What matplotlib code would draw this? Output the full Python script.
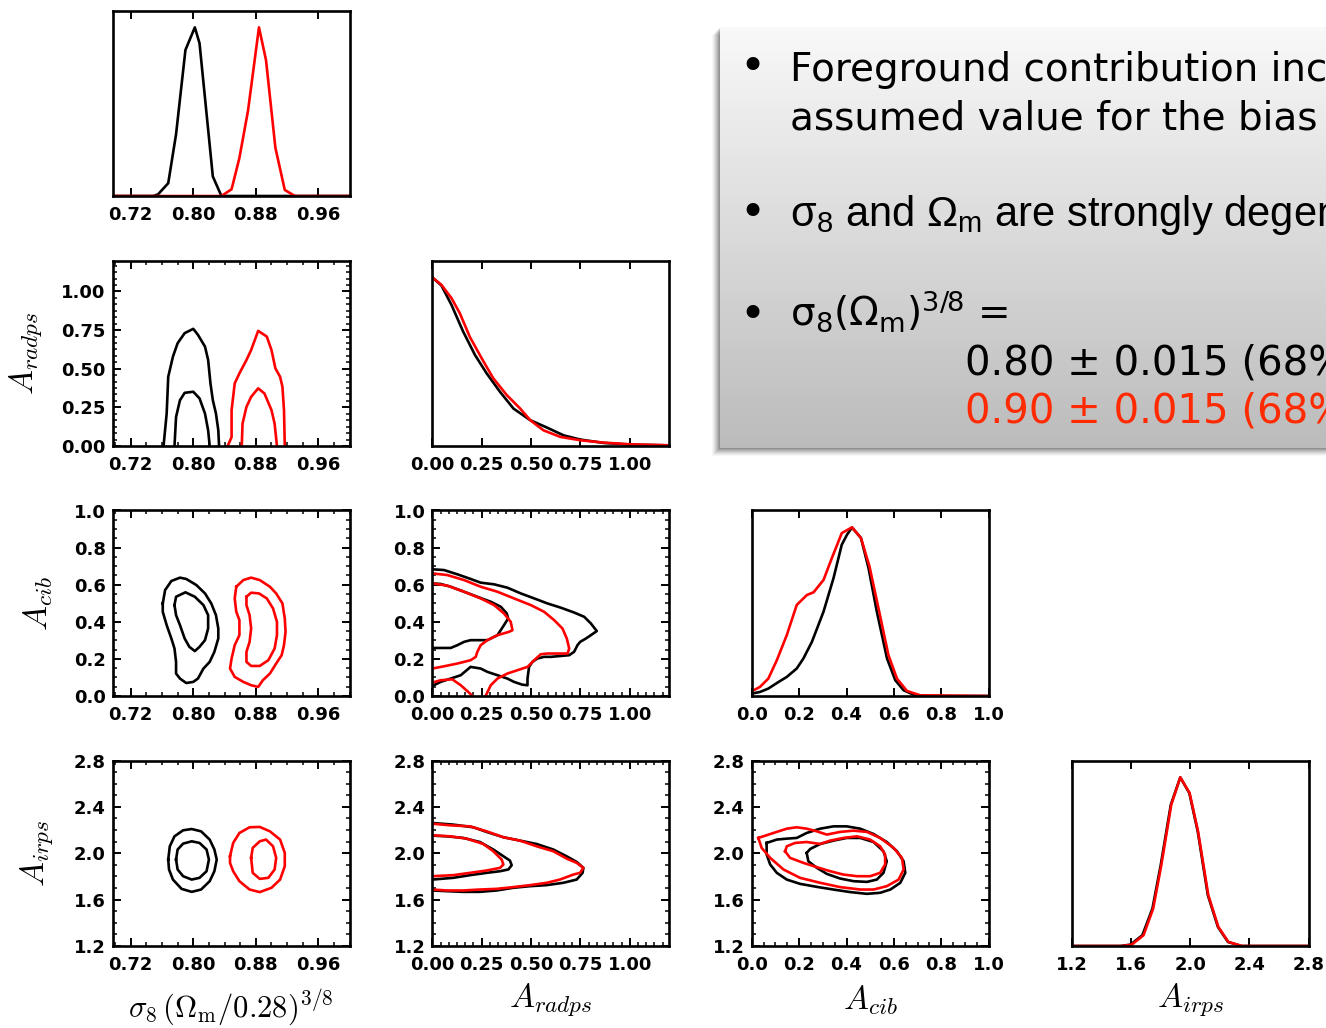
import matplotlib
matplotlib.use("Agg")
import matplotlib.pyplot as plt
import numpy as np
from matplotlib.ticker import FixedLocator, FixedFormatter, AutoMinorLocator, NullLocator
from matplotlib.patches import Rectangle

plt.rcParams['mathtext.fontset'] = 'cm'
plt.rcParams['font.family'] = ['DejaVu Sans']

# ---------------- data ----------------
# parameter axes
param_labels = [r"$\sigma_8\,(\Omega_{\rm m}/0.28)^{3/8}$", r"$A_{radps}$", r"$A_{cib}$", r"$A_{irps}$"]
param_lims = [(0.697, 1.0), (0.0, 1.2), (0.0, 1.0), (1.2, 2.8)]
param_ticks = [[0.72, 0.80, 0.88, 0.96], [0.0, 0.25, 0.5, 0.75, 1.0],
               [0.0, 0.2, 0.4, 0.6, 0.8, 1.0], [1.2, 1.6, 2.0, 2.4, 2.8]]
param_ticklabels = [["0.72", "0.80", "0.88", "0.96"], ["0.00", "0.25", "0.50", "0.75", "1.00"],
                    ["0.0", "0.2", "0.4", "0.6", "0.8", "1.0"], ["1.2", "1.6", "2.0", "2.4", "2.8"]]
param_minor = [4, 6, 4, 4]

# 1D marginals (normalised to peak)
s8_x_black = [0.697, 0.749, 0.755, 0.768, 0.778, 0.790, 0.802, 0.808, 0.825, 0.836, 1.0]
s8_p_black = [0, 0, 0.01, 0.076, 0.366, 0.866, 1.0, 0.906, 0.116, 0, 0]
s8_x_red = [0.697, 0.836, 0.849, 0.859, 0.870, 0.884, 0.893, 0.905, 0.917, 0.930, 1.0]
s8_p_red = [0, 0, 0.04, 0.226, 0.506, 1.0, 0.806, 0.286, 0.036, 0, 0]

radps_x_black = [0, 0.046, 0.097, 0.156, 0.216, 0.275, 0.343, 0.411, 0.496, 0.581, 0.665, 0.750, 0.869, 1.005, 1.2]
radps_p_black = [1.0, 0.952, 0.837, 0.679, 0.540, 0.431, 0.321, 0.222, 0.153, 0.109, 0.063, 0.038, 0.018, 0.008, 0.004]
radps_x_red = [0, 0.046, 0.097, 0.139, 0.190, 0.250, 0.309, 0.377, 0.445, 0.496, 0.563, 0.648, 0.750, 0.869, 1.005, 1.2]
radps_p_red = [1.0, 0.956, 0.877, 0.788, 0.647, 0.520, 0.401, 0.302, 0.222, 0.153, 0.093, 0.054, 0.034, 0.020, 0.010, 0.004]

cib_x_black = [0, 0.035, 0.070, 0.113, 0.148, 0.190, 0.218, 0.254, 0.303, 0.345, 0.380, 0.402, 0.423,
               0.461, 0.493, 0.528, 0.571, 0.606, 0.641, 0.683, 0.740, 1.0]
cib_p_black = [0.014, 0.024, 0.044, 0.083, 0.113, 0.163, 0.222, 0.321, 0.500, 0.698, 0.897, 0.956, 1.0,
               0.937, 0.758, 0.500, 0.222, 0.093, 0.034, 0.008, 0, 0]
cib_x_red = [0, 0.035, 0.070, 0.106, 0.148, 0.190, 0.233, 0.261, 0.303, 0.338, 0.380, 0.423, 0.461,
             0.497, 0.535, 0.577, 0.613, 0.655, 0.711, 1.0]
cib_p_red = [0.028, 0.054, 0.103, 0.212, 0.361, 0.540, 0.599, 0.615, 0.688, 0.817, 0.966, 1.0, 0.937,
             0.768, 0.520, 0.242, 0.103, 0.030, 0.004, 0]

irps_x_black = [1.2, 1.529, 1.597, 1.677, 1.745, 1.801, 1.869, 1.933, 1.994, 2.051, 2.119, 2.187, 2.255, 2.346, 2.8]
irps_p_black = [0, 0, 0.008, 0.064, 0.222, 0.480, 0.837, 1.0, 0.907, 0.679, 0.302, 0.113, 0.024, 0, 0]
irps_x_red = [1.2, 1.540, 1.605, 1.685, 1.750, 1.805, 1.872, 1.933, 1.996, 2.053, 2.122, 2.190, 2.258, 2.350, 2.8]
irps_p_red = [0, 0, 0.008, 0.064, 0.222, 0.480, 0.837, 1.0, 0.907, 0.679, 0.302, 0.113, 0.024, 0, 0]

# 2D contours (68% inner, 95% outer), x/y in parameter units
# sigma8 - A_radps
s8_radps_black_95 = ([0.762, 0.766, 0.768, 0.774, 0.780, 0.789, 0.800, 0.806, 0.815, 0.819, 0.822, 0.825, 0.829, 0.832, 0.833],
                     [0, 0.21, 0.448, 0.578, 0.665, 0.73, 0.758, 0.719, 0.643, 0.557, 0.405, 0.297, 0.21, 0.102, 0])
s8_radps_black_68 = ([0.776, 0.778, 0.783, 0.789, 0.800, 0.808, 0.815, 0.819, 0.821],
                     [0, 0.188, 0.296, 0.344, 0.351, 0.308, 0.210, 0.102, 0])
s8_radps_red_95 = ([0.844, 0.849, 0.849, 0.853, 0.859, 0.868, 0.874, 0.883, 0.894, 0.900, 0.905, 0.911, 0.914, 0.916, 0.917],
                   [0, 0.058, 0.232, 0.405, 0.47, 0.556, 0.621, 0.745, 0.708, 0.621, 0.502, 0.448, 0.383, 0.232, 0])
s8_radps_red_68 = ([0.862, 0.863, 0.868, 0.874, 0.883, 0.891, 0.900, 0.904, 0.907],
                   [0, 0.145, 0.253, 0.318, 0.373, 0.34, 0.232, 0.145, 0])

# sigma8 - A_cib
s8_cib_black_95 = ([0.761, 0.764, 0.772, 0.783, 0.791, 0.804, 0.815, 0.823, 0.829, 0.832, 0.832, 0.827, 0.821,
                    0.813, 0.806, 0.800, 0.791, 0.783, 0.778, 0.778, 0.776, 0.772, 0.766, 0.761, 0.761],
                   [0.499, 0.571, 0.620, 0.638, 0.631, 0.598, 0.553, 0.499, 0.436, 0.364, 0.310, 0.238, 0.184,
                    0.148, 0.094, 0.076, 0.070, 0.094, 0.121, 0.184, 0.256, 0.310, 0.382, 0.454, 0.499])
s8_cib_black_68 = ([0.776, 0.778, 0.790, 0.802, 0.813, 0.819, 0.819, 0.815, 0.808, 0.802, 0.795, 0.789, 0.783, 0.778, 0.776],
                   [0.490, 0.535, 0.559, 0.535, 0.490, 0.436, 0.364, 0.301, 0.265, 0.242, 0.265, 0.310, 0.382, 0.436, 0.490])
s8_cib_red_95 = ([0.855, 0.864, 0.874, 0.885, 0.898, 0.906, 0.914, 0.917, 0.918, 0.916, 0.913, 0.906, 0.898,
                  0.889, 0.883, 0.874, 0.864, 0.853, 0.847, 0.849, 0.853, 0.859, 0.859, 0.855, 0.853, 0.855],
                 [0.589, 0.625, 0.638, 0.625, 0.589, 0.553, 0.499, 0.418, 0.346, 0.274, 0.220, 0.175, 0.121,
                  0.085, 0.049, 0.058, 0.076, 0.103, 0.148, 0.202, 0.274, 0.328, 0.409, 0.454, 0.526, 0.589])
s8_cib_red_68 = ([0.868, 0.874, 0.884, 0.894, 0.902, 0.907, 0.907, 0.904, 0.896, 0.885, 0.874, 0.868, 0.868,
                  0.872, 0.874, 0.872, 0.868, 0.868],
                 [0.535, 0.557, 0.553, 0.526, 0.472, 0.400, 0.328, 0.256, 0.193, 0.162, 0.162, 0.184, 0.238,
                  0.292, 0.364, 0.436, 0.490, 0.535])

# sigma8 - A_irps
s8_irps_black_95 = ([0.768, 0.770, 0.776, 0.787, 0.798, 0.810, 0.821, 0.827, 0.830, 0.827, 0.821, 0.810, 0.798, 0.785, 0.774, 0.769, 0.768],
                    [1.946, 2.060, 2.146, 2.198, 2.209, 2.189, 2.118, 2.032, 1.946, 1.845, 1.759, 1.687, 1.667, 1.693, 1.773, 1.860, 1.946])
s8_irps_black_68 = ([0.778, 0.780, 0.787, 0.798, 0.808, 0.817, 0.820, 0.817, 0.808, 0.798, 0.787, 0.780, 0.778],
                    [1.946, 2.032, 2.083, 2.103, 2.089, 2.032, 1.946, 1.845, 1.788, 1.773, 1.802, 1.860, 1.946])
s8_irps_red_95 = ([0.847, 0.851, 0.859, 0.872, 0.885, 0.898, 0.911, 0.917, 0.917, 0.911, 0.900, 0.885, 0.872, 0.859, 0.851, 0.847, 0.847],
                  [1.974, 2.089, 2.175, 2.224, 2.227, 2.189, 2.118, 2.003, 1.888, 1.773, 1.702, 1.665, 1.687, 1.759, 1.845, 1.917, 1.974])
s8_irps_red_68 = ([0.874, 0.876, 0.885, 0.893, 0.902, 0.906, 0.904, 0.896, 0.885, 0.876, 0.874],
                  [1.960, 2.046, 2.103, 2.118, 2.060, 1.960, 1.860, 1.788, 1.779, 1.831, 1.960])

# A_radps - A_cib
radps_cib_black_95 = ([0, 0.059, 0.127, 0.186, 0.245, 0.313, 0.380, 0.448, 0.516, 0.583, 0.651, 0.718, 0.769, 0.803, 0.833,
                       0.803, 0.778, 0.749, 0.735, 0.718, 0.693, 0.600, 0.566, 0.532, 0.507, 0.490, 0.482, 0.482,
                       0.456, 0.414, 0.380, 0.330, 0.279, 0.245, 0.194, 0.144, 0.093, 0.042, 0],
                      [0.683, 0.679, 0.656, 0.634, 0.611, 0.602, 0.584, 0.553, 0.526, 0.499, 0.476, 0.450, 0.427, 0.391, 0.350,
                       0.328, 0.310, 0.292, 0.274, 0.238, 0.220, 0.211, 0.211, 0.202, 0.184, 0.157, 0.094, 0.058,
                       0.061, 0.076, 0.094, 0.112, 0.130, 0.148, 0.157, 0.112, 0.094, 0.076, 0.054])
radps_cib_black_68 = ([0, 0.042, 0.093, 0.161, 0.228, 0.296, 0.347, 0.377, 0.384, 0.363, 0.330, 0.279, 0.245, 0.194,
                       0.161, 0.127, 0.093, 0.042, 0],
                      [0.607, 0.604, 0.589, 0.562, 0.535, 0.508, 0.481, 0.445, 0.418, 0.382, 0.328, 0.301, 0.301, 0.301,
                       0.292, 0.274, 0.259, 0.259, 0.259])
radps_cib_red_95 = ([0, 0.076, 0.161, 0.245, 0.330, 0.414, 0.499, 0.566, 0.617, 0.659, 0.681, 0.693, 0.685, 0.651,
                     0.583, 0.549, 0.516, 0.482, 0.431, 0.380, 0.330, 0.296, 0.270],
                    [0.661, 0.652, 0.625, 0.589, 0.562, 0.526, 0.490, 0.454, 0.409, 0.364, 0.310, 0.256, 0.229, 0.229,
                     0.229, 0.225, 0.193, 0.157, 0.139, 0.121, 0.094, 0.058, 0.0])
radps_cib_red_95b = ([0, 0.042, 0.101, 0.144, 0.186, 0.203],
                     [0.072, 0.085, 0.090, 0.058, 0.018, 0.0])
radps_cib_red_68 = ([0, 0.076, 0.161, 0.245, 0.313, 0.363, 0.397, 0.406, 0.389, 0.330, 0.279, 0.245, 0.228, 0.220,
                     0.194, 0.127, 0.059, 0],
                    [0.607, 0.595, 0.562, 0.526, 0.490, 0.445, 0.400, 0.355, 0.346, 0.328, 0.301, 0.274, 0.238, 0.211,
                     0.193, 0.175, 0.160, 0.148])

# A_radps - A_irps
radps_irps_black_95 = ([0, 0.106, 0.208, 0.275, 0.360, 0.444, 0.528, 0.613, 0.680, 0.731, 0.765, 0.761, 0.731, 0.663,
                        0.579, 0.495, 0.410, 0.326, 0.241, 0.157, 0.073, 0],
                       [2.261, 2.247, 2.224, 2.184, 2.138, 2.109, 2.080, 2.032, 1.974, 1.925, 1.874, 1.831, 1.773, 1.745,
                        1.725, 1.716, 1.702, 1.679, 1.667, 1.667, 1.673, 1.679])
radps_irps_black_68 = ([0, 0.073, 0.157, 0.241, 0.309, 0.360, 0.393, 0.402, 0.385, 0.343, 0.275, 0.191, 0.106, 0],
                       [2.152, 2.146, 2.132, 2.097, 2.032, 1.974, 1.937, 1.897, 1.860, 1.845, 1.831, 1.811, 1.788, 1.773])
radps_irps_red_95 = ([0, 0.090, 0.191, 0.275, 0.360, 0.444, 0.528, 0.613, 0.680, 0.731, 0.765, 0.748, 0.714, 0.646,
                      0.579, 0.495, 0.410, 0.326, 0.241, 0.157, 0.073, 0],
                     [2.255, 2.241, 2.232, 2.189, 2.138, 2.109, 2.060, 2.017, 1.954, 1.917, 1.874, 1.831, 1.816, 1.773,
                      1.745, 1.725, 1.708, 1.693, 1.687, 1.679, 1.679, 1.687])
radps_irps_red_68 = ([0, 0.090, 0.174, 0.258, 0.309, 0.351, 0.360, 0.343, 0.275, 0.191, 0.106, 0],
                     [2.155, 2.146, 2.126, 2.080, 2.017, 1.946, 1.903, 1.874, 1.851, 1.831, 1.811, 1.802])

# A_cib - A_irps
cib_irps_black_95 = ([0.063, 0.106, 0.148, 0.190, 0.232, 0.289, 0.345, 0.401, 0.458, 0.514, 0.570, 0.613, 0.641, 0.648,
                      0.627, 0.585, 0.542, 0.486, 0.416, 0.345, 0.275, 0.204, 0.148, 0.106, 0.078, 0.063, 0.063],
                     [2.089, 2.118, 2.126, 2.132, 2.175, 2.212, 2.232, 2.232, 2.212, 2.166, 2.097, 2.017, 1.931, 1.831,
                      1.745, 1.687, 1.659, 1.650, 1.665, 1.687, 1.710, 1.736, 1.773, 1.831, 1.903, 1.989, 2.089])
cib_irps_black_68 = ([0.232, 0.247, 0.289, 0.345, 0.401, 0.458, 0.514, 0.556, 0.570, 0.556, 0.528, 0.486, 0.430, 0.373,
                      0.317, 0.275, 0.239, 0.232],
                     [2.003, 2.037, 2.080, 2.109, 2.132, 2.132, 2.097, 2.017, 1.931, 1.831, 1.773, 1.753, 1.759, 1.782,
                      1.822, 1.874, 1.931, 2.003])
cib_irps_red_95 = ([0.028, 0.092, 0.148, 0.190, 0.232, 0.275, 0.317, 0.373, 0.430, 0.486, 0.542, 0.599, 0.634, 0.641,
                    0.620, 0.570, 0.514, 0.458, 0.373, 0.289, 0.204, 0.134, 0.078, 0.042, 0.028],
                   [2.132, 2.175, 2.212, 2.224, 2.212, 2.189, 2.161, 2.184, 2.195, 2.184, 2.132, 2.046, 1.960, 1.860,
                    1.773, 1.716, 1.687, 1.687, 1.708, 1.745, 1.788, 1.860, 1.960, 2.046, 2.132])
cib_irps_red_68 = ([0.141, 0.148, 0.183, 0.232, 0.289, 0.331, 0.387, 0.444, 0.500, 0.542, 0.563, 0.563, 0.542, 0.500,
                    0.444, 0.387, 0.331, 0.275, 0.218, 0.162, 0.141],
                   [2.017, 2.060, 2.089, 2.097, 2.080, 2.109, 2.132, 2.146, 2.118, 2.060, 1.989, 1.903, 1.831, 1.802,
                    1.802, 1.816, 1.845, 1.880, 1.917, 1.960, 2.017])

# text box content
box_line1 = "Foreground contribution increases the"
box_line2 = "assumed value for the bias"
box_line3 = r"$\mathregular{\sigma_8}$ and $\mathregular{\Omega_m}$ are strongly degenerate"
box_line4 = r"$\mathregular{\sigma_8(\Omega_m)^{3/8}}$ ="
box_val_black = "0.80 \u00b1 0.015 (68% CL)"
box_val_red = "0.90 \u00b1 0.015 (68% CL)"

# ---------------- figure ----------------
W, H = 1326, 1028
fig = plt.figure(figsize=(W / 100, H / 100), dpi=100)
fig.patch.set_facecolor("white")

col_left = [112.7, 432.3, 751.7, 1071.7]
row_top = [10.5, 260.5, 510.5, 760.5]
AW, AH = 237.0, 185.5
BLACK, RED = "black", "#ff0000"
LW = 1.9
TICKFONT = dict(fontsize=13, fontweight="bold")


def add_ax(r, c):
    return fig.add_axes([col_left[c] / W, 1 - (row_top[r] + AH) / H, AW / W, AH / H])


def style_axis(ax, c, r=None):
    for s in ax.spines.values():
        s.set_linewidth(1.9)
    ax.set_xlim(*param_lims[c])
    ax.xaxis.set_major_locator(FixedLocator(param_ticks[c]))
    ax.xaxis.set_major_formatter(FixedFormatter(param_ticklabels[c]))
    ax.tick_params(axis="both", which="major", direction="in", length=6, width=1.4,
                   top=True, right=True, pad=5)
    ax.tick_params(axis="x", which="major", pad=7)
    ax.tick_params(axis="both", which="minor", direction="in", length=3, width=1.1,
                   top=True, right=True)
    if r is None:
        ax.set_ylim(0, 1.1)
        ax.yaxis.set_major_locator(NullLocator())
        ax.xaxis.set_minor_locator(NullLocator())
    else:
        ax.set_ylim(*param_lims[r])
        ax.yaxis.set_major_locator(FixedLocator(param_ticks[r]))
        ax.yaxis.set_major_formatter(FixedFormatter(param_ticklabels[r]))
        ax.xaxis.set_minor_locator(AutoMinorLocator(param_minor[c]))
        ax.yaxis.set_minor_locator(AutoMinorLocator(param_minor[r]))
    for lab in ax.get_xticklabels() + ax.get_yticklabels():
        lab.set_fontsize(TICKFONT["fontsize"])
        lab.set_fontweight(TICKFONT["fontweight"])


# diagonal panels
diag = [
    (s8_x_black, s8_p_black, s8_x_red, s8_p_red),
    (radps_x_black, radps_p_black, radps_x_red, radps_p_red),
    (cib_x_black, cib_p_black, cib_x_red, cib_p_red),
    (irps_x_black, irps_p_black, irps_x_red, irps_p_red),
]
diag_axes = []
for i, (xb, pb, xr, pr) in enumerate(diag):
    ax = add_ax(i, i)
    ax.plot(xb, pb, color=BLACK, lw=LW)
    ax.plot(xr, pr, color=RED, lw=LW)
    style_axis(ax, i)
    diag_axes.append(ax)

# off-diagonal panels: (row, col, [black contours], [red contours])
pairs = [
    (1, 0, [s8_radps_black_95, s8_radps_black_68], [s8_radps_red_95, s8_radps_red_68]),
    (2, 0, [s8_cib_black_95, s8_cib_black_68], [s8_cib_red_95, s8_cib_red_68]),
    (3, 0, [s8_irps_black_95, s8_irps_black_68], [s8_irps_red_95, s8_irps_red_68]),
    (2, 1, [radps_cib_black_95, radps_cib_black_68], [radps_cib_red_95, radps_cib_red_95b, radps_cib_red_68]),
    (3, 1, [radps_irps_black_95, radps_irps_black_68], [radps_irps_red_95, radps_irps_red_68]),
    (3, 2, [cib_irps_black_95, cib_irps_black_68], [cib_irps_red_95, cib_irps_red_68]),
]
axes = {}
for r, c, blk, red in pairs:
    ax = add_ax(r, c)
    for cx, cy in blk:
        ax.plot(cx, cy, color=BLACK, lw=LW)
    for cx, cy in red:
        ax.plot(cx, cy, color=RED, lw=LW)
    style_axis(ax, c, r)
    axes[(r, c)] = ax

# axis labels
ylab_x = {1: -0.366, 2: -0.315, 3: -0.322}
for r in (1, 2, 3):
    ax = axes[(r, 0)]
    ax.set_ylabel(param_labels[r], fontsize=24)
    ax.yaxis.label.set_va("center")
    ax.yaxis.set_label_coords(ylab_x[r], 0.5)

for c in range(4):
    ax = axes[(3, c)] if c < 3 else diag_axes[3]
    ax.set_xlabel(param_labels[c], fontsize=24 if c else 22)
    ax.xaxis.label.set_va("center")
    ax.xaxis.set_label_coords(0.5, -0.33 if c == 0 else -0.29)

# ---------------- text box ----------------
bx0, by0, bx1, by1 = 720, 27, 1340, 448
for k, a in zip(range(1, 9), [0.10, 0.09, 0.08, 0.07, 0.06, 0.05, 0.04, 0.03]):
    fig.patches.append(Rectangle(((bx0 - k) / W, 1 - (by1 + k) / H), (bx1 - bx0) / W, (by1 - by0) / H,
                                 transform=fig.transFigure, facecolor="black", edgecolor="none",
                                 alpha=a, zorder=0.5))
box_ax = fig.add_axes([bx0 / W, 1 - by1 / H, (bx1 - bx0) / W, (by1 - by0) / H], zorder=1)
grad = np.linspace(0.975, 0.735, 256)[:, None] * np.ones((1, 4))
box_ax.imshow(np.dstack([grad, grad, grad]), aspect="auto", extent=(0, 1, 0, 1), interpolation="bilinear")
box_ax.set_axis_off()


def ftxt(x, y, s, **kw):
    fig.text(x / W, 1 - y / H, s, zorder=5, **kw)


for yb in (68, 213, 316):
    ftxt(752, yb, "\u2022", fontsize=32, ha="center", va="center", family="DejaVu Sans")
ftxt(790, 81, box_line1, fontsize=28, ha="left", va="baseline", family="DejaVu Sans")
ftxt(790, 129, box_line2, fontsize=28, ha="left", va="baseline", family="DejaVu Sans")
ftxt(790, 226, box_line3, fontsize=30, ha="left", va="baseline", family=["Liberation Sans", "DejaVu Sans"])
ftxt(790, 326, box_line4, fontsize=28, ha="left", va="baseline", family="DejaVu Sans")
ftxt(965, 375, box_val_black, fontsize=29, ha="left", va="baseline", family="DejaVu Sans", color="black")
ftxt(965, 423, box_val_red, fontsize=29, ha="left", va="baseline", family="DejaVu Sans", color="#ff2a00")

fig.savefig("out.png", dpi=100)
